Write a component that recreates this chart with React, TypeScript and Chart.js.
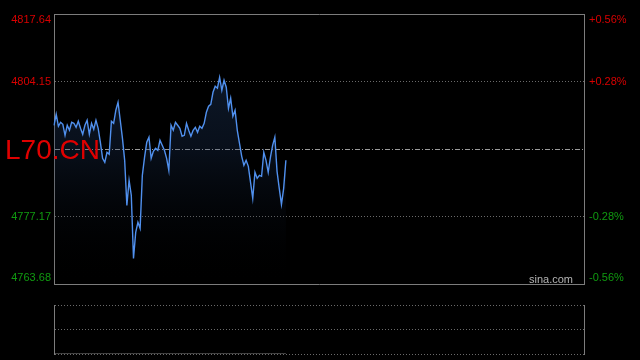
import React, { useEffect, useRef } from 'react';
import { Chart, registerables } from 'chart.js';

Chart.register(...registerables);

// ---- data ----
const symbolLabel = 'L70.CN';
const watermark = 'sina.com';
const baseClose = 4790.66;
const priceTicks = [4763.68, 4777.17, 4790.66, 4804.15, 4817.64];
const priceTickLabels = ['4763.68', '4777.17', '', '4804.15', '4817.64'];
const pctTickLabels = ['-0.56%', '-0.28%', '', '+0.28%', '+0.56%'];
const volumeTicks = [0, 1, 2];

const indexPrices = [
  4795.4, 4797.6, 4795.2, 4796.0, 4795.6, 4793.4, 4795.4, 4794.4, 4796.0, 4795.8,
  4795.0, 4796.2, 4794.8, 4793.6, 4795.4, 4796.4, 4793.6, 4795.8, 4794.6, 4796.4,
  4794.8, 4792.0, 4788.8, 4788.0, 4790.0, 4789.6, 4796.2, 4795.8, 4798.4, 4800.0,
  4796.4, 4792.8, 4788.4, 4779.4, 4784.4, 4781.4, 4768.8, 4774.0, 4776.0, 4774.8,
  4785.4, 4789.0, 4792.0, 4793.0, 4788.8, 4790.2, 4790.8, 4790.4, 4792.4, 4791.4,
  4790.4, 4788.8, 4786.4, 4795.4, 4794.4, 4796.0, 4795.4, 4794.8, 4793.2, 4793.4,
  4795.8, 4794.4, 4793.2, 4794.4, 4795.0, 4794.0, 4795.2, 4794.8, 4795.8, 4798.0,
  4799.2, 4799.6, 4802.0, 4803.2, 4802.8, 4805.0, 4802.4, 4804.4, 4803.0, 4798.8,
  4800.8, 4797.2, 4798.4, 4794.4, 4791.8, 4789.2, 4787.4, 4788.4, 4787.2, 4784.0,
  4780.8, 4786.0, 4784.8, 4785.4, 4785.2, 4790.0, 4788.4, 4786.0, 4789.0, 4791.4,
  4793.0, 4786.2, 4782.8, 4779.6, 4782.8, 4788.4,
];

const volumeValues = [
  0, 0, 0, 0, 0, 0, 0, 0, 0, 0, 0, 0, 0, 0, 0, 0, 0, 0, 0, 0,
  0, 0, 0, 0, 0, 0, 0, 0, 0, 0, 0, 0, 0, 0, 0, 0, 0, 0, 0, 0,
  0, 0, 0, 0, 0, 0, 0, 0, 0, 0, 0, 0, 0, 0, 0, 0, 0, 0, 0, 0,
  0, 0, 0, 0, 0, 0, 0, 0, 0, 0, 0, 0, 0, 0, 0, 0, 0, 0, 0, 0,
  0, 0, 0, 0, 0, 0, 0, 0, 0, 0, 0, 0, 0, 0, 0, 0, 0, 0, 0, 0,
  0, 0, 0, 0, 0, 0,
];

// trading session minute labels 09:30-11:30, 13:00-15:00 (241 slots)
function sessionLabels(): string[] {
  const out: string[] = [];
  const pad = (n: number) => (n < 10 ? '0' + n : '' + n);
  for (let m = 9 * 60 + 30; m <= 11 * 60 + 30; m++) out.push(pad(Math.floor(m / 60)) + ':' + pad(m % 60));
  for (let m = 13 * 60 + 1; m <= 15 * 60; m++) out.push(pad(Math.floor(m / 60)) + ':' + pad(m % 60));
  return out;
}
const timeLabels = sessionLabels();

const FONT = '"Liberation Sans", Arial, Helvetica, sans-serif';
const RED = '#d80000';
const GREEN = '#109a10';
const FRAME = '#7c7c7c';
const GRID = '#6a6a6a';
const MIDGRID = '#9a9a9a';
const LINE = '#5090ee';
const CLEAR = 'rgba(0,0,0,0)';

function tickIndex(v: number): number {
  return priceTicks.findIndex((t) => Math.abs(t - v) < 0.005);
}
function tickColor(v: number): string {
  if (v > baseClose + 0.005) return RED;
  if (v < baseClose - 0.005) return GREEN;
  return '#999';
}
function edgeLabel(v: number, text: string): string | string[] {
  if (Math.abs(v - priceTicks[priceTicks.length - 1]) < 0.005) return ['', text];
  if (Math.abs(v - priceTicks[0]) < 0.005) return [text, ''];
  return text;
}

const overlayText = {
  id: 'overlayText',
  afterDatasetsDraw(chart: any) {
    const { ctx, chartArea } = chart;
    ctx.save();
    ctx.font = '28px ' + FONT;
    ctx.fillStyle = '#e00000';
    ctx.textAlign = 'left';
    ctx.textBaseline = 'alphabetic';
    ctx.fillText(symbolLabel, 5, 159);
    ctx.font = '11px ' + FONT;
    ctx.fillStyle = '#b4b4b4';
    ctx.textAlign = 'right';
    ctx.fillText(watermark, chartArea.right - 11, chartArea.bottom - 1);
    ctx.restore();
  },
};

export default function App() {
  const mainRef = useRef<HTMLCanvasElement>(null);
  const volRef = useRef<HTMLCanvasElement>(null);

  useEffect(() => {
    if (!mainRef.current || !volRef.current) return;
    const main = new Chart(mainRef.current, {
      type: 'line',
      data: {
        labels: timeLabels,
        datasets: [
          {
            data: indexPrices,
            borderColor: LINE,
            borderWidth: 1.4,
            pointRadius: 0,
            tension: 0,
            fill: 'start',
            backgroundColor: (c: any) => {
              const area = c.chart.chartArea;
              if (!area) return CLEAR;
              const g = c.chart.ctx.createLinearGradient(0, area.top, 0, area.bottom);
              g.addColorStop(0, 'rgba(40,75,125,0.42)');
              g.addColorStop(0.5, 'rgba(30,55,95,0.28)');
              g.addColorStop(1, 'rgba(0,0,0,0)');
              return g;
            },
          },
        ],
      },
      options: {
        responsive: false,
        animation: false,
        layout: { padding: { top: 14, bottom: 76, left: 0, right: 0 } },
        plugins: { legend: { display: false }, tooltip: { enabled: false } },
        scales: {
          x: { type: 'category', display: false, offset: false },
          y: {
            position: 'left',
            min: priceTicks[0],
            max: priceTicks[priceTicks.length - 1],
            afterBuildTicks: (s: any) => {
              s.ticks = priceTicks.map((v) => ({ value: v }));
            },
            afterFit: (s: any) => {
              s.width = 54;
            },
            ticks: {
              padding: 0,
              font: { family: FONT, size: 11, lineHeight: 1.1 },
              color: (c: any) => tickColor(c.tick ? c.tick.value : baseClose),
              callback: (v: any) => edgeLabel(Number(v), priceTickLabels[tickIndex(Number(v))] ?? ''),
            },
            grid: {
              drawTicks: true,
              tickLength: 3,
              tickColor: CLEAR,
              lineWidth: 1,
              color: (c: any) => {
                if (!c.tick) return GRID;
                const i = tickIndex(c.tick.value);
                if (i === 0 || i === priceTicks.length - 1) return FRAME;
                if (i === 2) return MIDGRID;
                return GRID;
              },
            },
            border: {
              display: true,
              color: FRAME,
              dash: (c: any) => {
                if (!c.tick) return [];
                const i = tickIndex(c.tick.value);
                if (i === 0 || i === priceTicks.length - 1) return [];
                if (i === 2) return [5, 2, 1, 2];
                return [1, 2];
              },
            },
          },
          yPct: {
            position: 'right',
            min: priceTicks[0],
            max: priceTicks[priceTicks.length - 1],
            afterBuildTicks: (s: any) => {
              s.ticks = priceTicks.map((v) => ({ value: v }));
            },
            afterFit: (s: any) => {
              s.width = 56;
            },
            ticks: {
              padding: 0,
              font: { family: FONT, size: 11, lineHeight: 1.1 },
              color: (c: any) => tickColor(c.tick ? c.tick.value : baseClose),
              callback: (v: any) => edgeLabel(Number(v), pctTickLabels[tickIndex(Number(v))] ?? ''),
            },
            grid: { display: true, drawOnChartArea: false, drawTicks: true, tickLength: 5, tickColor: CLEAR, color: CLEAR },
            border: { display: true, color: FRAME, dash: [] },
          },
        },
      } as any,
      plugins: [overlayText],
    });

    const vol = new Chart(volRef.current, {
      type: 'line',
      data: {
        labels: timeLabels,
        datasets: [
          {
            data: volumeValues,
            borderColor: '#8a8a8a',
            borderWidth: 1,
            pointRadius: 0,
            fill: false,
          },
        ],
      },
      options: {
        responsive: false,
        animation: false,
        layout: { padding: { top: 15, bottom: 6, left: 0, right: 0 } },
        plugins: { legend: { display: false }, tooltip: { enabled: false } },
        scales: {
          x: { type: 'category', display: false, offset: false },
          y: {
            position: 'left',
            min: volumeTicks[0],
            max: volumeTicks[volumeTicks.length - 1],
            afterBuildTicks: (s: any) => {
              s.ticks = volumeTicks.map((v) => ({ value: v }));
            },
            afterFit: (s: any) => {
              s.width = 54;
            },
            ticks: { display: false },
            grid: { drawTicks: false, color: GRID, lineWidth: 1 },
            border: {
              display: true,
              color: FRAME,
              dash: (c: any) => (c.tick ? [1, 2] : []),
            },
          },
          yR: {
            position: 'right',
            min: volumeTicks[0],
            max: volumeTicks[volumeTicks.length - 1],
            afterFit: (s: any) => {
              s.width = 56;
            },
            ticks: { display: false },
            grid: { display: false, drawTicks: false },
            border: { display: true, color: FRAME, dash: [] },
          },
        },
      } as any,
    });

    return () => {
      main.destroy();
      vol.destroy();
    };
  }, []);

  return (
    <div style={{ position: 'fixed', left: 0, top: 0, width: 640, height: 360, background: '#000', overflow: 'hidden' }}>
      <canvas ref={mainRef} width={640} height={360} style={{ position: 'absolute', left: 0, top: 0, width: 640, height: 360 }} />
      <canvas ref={volRef} width={640} height={70} style={{ position: 'absolute', left: 0, top: 290, width: 640, height: 70 }} />
    </div>
  );
}
